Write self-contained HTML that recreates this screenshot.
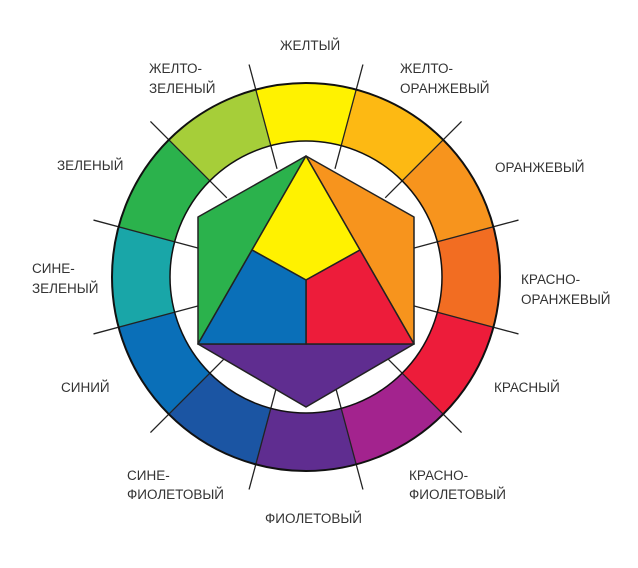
<!DOCTYPE html>
<html><head><meta charset="utf-8"><style>
html,body{margin:0;padding:0;background:#fff;}
svg{display:block;}
text{font-family:"Liberation Sans",sans-serif;font-size:13.5px;fill:#333;}
</style></head><body>
<svg id="s" width="638" height="568" viewBox="0 0 638 568" xmlns="http://www.w3.org/2000/svg">
<g id="ring"></g>
<g id="lines" stroke="#222" stroke-width="1.3"></g>
<circle cx="306" cy="277" r="194" fill="none" stroke="#111" stroke-width="2"/>
<circle cx="306" cy="277" r="136" fill="none" stroke="#111" stroke-width="1.5"/>
<g stroke="#222" stroke-width="1.5" stroke-linejoin="round">
<polygon points="306,156 198,217 198,344" fill="#2bb24c"/>
<polygon points="306,156 414,217 414,344" fill="#f7941d"/>
<polygon points="198,344 414,344 306,407" fill="#5f2d90"/>
<polygon points="306,156 360,250 306,280 252,250" fill="#fff200"/>
<polygon points="360,250 414,344 306,344 306,280" fill="#ed1c3a"/>
<polygon points="252,250 306,280 306,344 198,344" fill="#0a6fb8"/>
</g>
<text x="280" y="50">ЖЕЛТЫЙ</text>
<text x="149" y="73">ЖЕЛТО-</text><text x="149" y="93">ЗЕЛЕНЫЙ</text>
<text x="400" y="73">ЖЕЛТО-</text><text x="400" y="93">ОРАНЖЕВЫЙ</text>
<text x="57" y="170">ЗЕЛЕНЫЙ</text>
<text x="495" y="172">ОРАНЖЕВЫЙ</text>
<text x="32" y="273">СИНЕ-</text><text x="32" y="293">ЗЕЛЕНЫЙ</text>
<text x="521" y="284">КРАСНО-</text><text x="521" y="304">ОРАНЖЕВЫЙ</text>
<text x="61" y="392">СИНИЙ</text>
<text x="494" y="392">КРАСНЫЙ</text>
<text x="127" y="480">СИНЕ-</text><text x="127" y="499">ФИОЛЕТОВЫЙ</text>
<text x="409" y="480">КРАСНО-</text><text x="409" y="499">ФИОЛЕТОВЫЙ</text>
<text x="265" y="523">ФИОЛЕТОВЫЙ</text>
</svg>
<script>
(function(){
var cx=306,cy=277,R=194,r=136,ns="http://www.w3.org/2000/svg";
var cols=["#fff200","#fdb913","#f7941d","#f26d22","#ed1c3a","#a3238e","#5f2d90","#1b55a3","#0a6fb8","#19a6a8","#2bb24c","#a6ce39"];
var ring=document.getElementById("ring"),lines=document.getElementById("lines");
function p(a,rr){var t=a*Math.PI/180;return [(cx+rr*Math.cos(t)).toFixed(2),(cy+rr*Math.sin(t)).toFixed(2)];}
for(var i=0;i<12;i++){
 var a0=-105+i*30,a1=a0+30;
 var A=p(a0,R),B=p(a1,R),C=p(a1,r),D=p(a0,r);
 var e=document.createElementNS(ns,"path");
 e.setAttribute("d","M"+A+" A"+R+" "+R+" 0 0 1 "+B+" L"+C+" A"+r+" "+r+" 0 0 0 "+D+"Z");
 e.setAttribute("fill",cols[i]);ring.appendChild(e);
 var l=document.createElementNS(ns,"line"),P=p(a0,112),Q=p(a0,220);
 l.setAttribute("x1",P[0]);l.setAttribute("y1",P[1]);l.setAttribute("x2",Q[0]);l.setAttribute("y2",Q[1]);
 lines.appendChild(l);
}
})();
</script>
</body></html>
